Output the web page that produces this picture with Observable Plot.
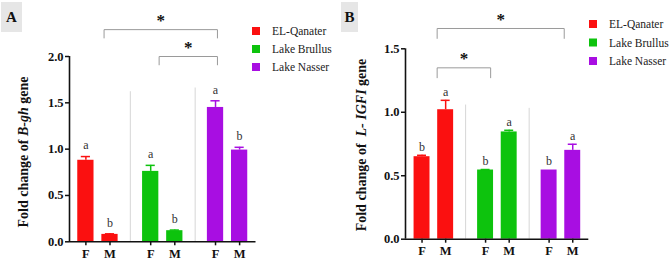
<!DOCTYPE html>
<html>
<head>
<meta charset="utf-8">
<script src="https://cdn.jsdelivr.net/npm/d3@7"></script>
<script src="https://cdn.jsdelivr.net/npm/@observablehq/plot@0.6"></script>
<style>
  html, body { margin: 0; padding: 0; background: #fff; }
  #wrap { position: relative; width: 669px; height: 262px; font-family: "Liberation Serif", "Times New Roman", serif; }
  .panel { position: absolute; top: 0; }
  .tag { position: absolute; top: 2px; height: 30px; background: #e6e6e6; font-weight: bold; font-size: 15px;
         font-family: "Liberation Serif", "Times New Roman", serif;
         display: flex; align-items: center; justify-content: center; color: #111; }
</style>
</head>
<body>
<div id="wrap">
  <div class="tag" style="left:1px;width:21px">A</div>
  <div class="tag" style="left:341px;width:17px">B</div>
  <div class="panel" id="pa" style="left:0"></div>
  <div class="panel" id="pb" style="left:335px"></div>
</div>
<script>
// Sampling sites and sexes
const sites = ["EL-Qanater", "Lake Brullus", "Lake Nasser"];
const sexes = ["F", "M"];
const siteColors = ["#fb1010", "#0dc30d", "#a80ee2"];

// B-gh fold change: mean and SEM, site by site, F then M
const bghMean = [0.88, 0.08, 0.76, 0.12, 1.45, 0.99];
const bghSem = [0.04, 0.006, 0.065, 0.007, 0.072, 0.03];
const bghLetters = ["a", "b", "a", "b", "a", "b"];
const bghBrackets = [["EL-Qanater M", "Lake Nasser F"], ["Lake Brullus F", "Lake Nasser F"]];

// L-IGFI fold change: mean and SEM, site by site, F then M
const igfMean = [0.65, 1.02, 0.545, 0.845, 0.545, 0.70];
const igfSem = [0.011, 0.074, 0.004, 0.013, 0, 0.048];
const igfLetters = ["b", "a", "b", "a", "b", "a"];
const igfBrackets = [["EL-Qanater M", "Lake Nasser M"], ["EL-Qanater M", "Lake Brullus F"]];

const FONT = "'Liberation Serif', 'Times New Roman', serif";
const GROUP_STEP = 2.69;   // distance between the F bars of neighbouring sites
const BAR_HALF = 0.3375;
const CAP_HALF = 0.19;

function buildRows(mean, sem, letters) {
  return mean.map((m, i) => {
    const s = Math.floor(i / 2), k = i % 2;
    return {
      site: sites[s], sex: sexes[k], key: sites[s] + " " + sexes[k],
      pos: s * GROUP_STEP + k, mean: m, sem: sem[i], top: m + sem[i], letter: letters[i]
    };
  });
}

function drawPanel(el, rows, brackets, cfg) {
  const posOf = new Map(rows.map(d => [d.key, d.pos]));
  const labelOf = new Map(rows.map(d => [d.pos, d.sex]));
  const dividers = cfg.dividerTops.map((t, i) => ({x: (i + 1) * GROUP_STEP - (GROUP_STEP - 1) / 2, top: t}));
  const br = brackets.map(([a, b], i) => ({
    id: i,
    x1: posOf.get(a) + cfg.nudge[i][0],
    x2: posOf.get(b) + cfg.nudge[i][1],
    y: cfg.levels[i]
  }));
  const brPts = br.flatMap(d => [
    {id: d.id, x: d.x1, y: d.y - cfg.tip},
    {id: d.id, x: d.x1, y: d.y},
    {id: d.id, x: d.x2, y: d.y},
    {id: d.id, x: d.x2, y: d.y - cfg.tip}
  ]);
  const withErr = rows.filter(d => d.sem > 0);
  const [x0, x1] = cfg.xDomain;

  const svg = Plot.plot({
    width: cfg.width, height: 262,
    marginLeft: cfg.marginLeft, marginRight: cfg.width - cfg.xRight,
    marginTop: cfg.marginTop, marginBottom: cfg.marginBottom,
    style: {fontFamily: FONT, fontSize: "11px", color: "#111", background: "transparent", overflow: "visible"},
    x: {type: "linear", domain: cfg.xDomain},
    y: {domain: [0, cfg.yMax]},
    color: {domain: sites, range: siteColors},
    marks: [
      Plot.ruleX(dividers, {x: "x", y1: 0, y2: "top", stroke: "#d6d6d6", strokeWidth: 1}),
      Plot.rectY(rows, {x1: d => d.pos - BAR_HALF, x2: d => d.pos + BAR_HALF, y1: 0, y2: "mean", fill: "site"}),
      Plot.ruleX(withErr, {x: "pos", y1: "mean", y2: "top", stroke: "site", strokeWidth: 1.5}),
      Plot.ruleY(withErr, {y: "top", x1: d => d.pos - CAP_HALF, x2: d => d.pos + CAP_HALF, stroke: "site", strokeWidth: 1.5}),
      Plot.text(rows, {x: "pos", y: "top", text: "letter", dy: cfg.letterDy, fontSize: 12, fill: "#333", lineAnchor: "middle"}),
      Plot.line(brPts, {x: "x", y: "y", z: "id", stroke: "#9a9a9a", strokeWidth: 1}),
      Plot.text(br, {x: d => (d.x1 + d.x2) / 2, y: "y", text: () => "*", dy: -9, fontSize: 17, fontWeight: "bold", fill: "#111"}),
      Plot.axisY({ticks: cfg.ticks, tickFormat: d3.format(".1f"), tickSize: 4, tickPadding: 2, strokeWidth: 1.5,
                  fontWeight: "bold", fontSize: 12.5, label: null}),
      Plot.axisX({ticks: rows.map(d => d.pos), tickFormat: d => labelOf.get(d), tickSize: 4, tickPadding: 3, strokeWidth: 1.5,
                  fontWeight: "bold", fontSize: 12.5, label: null}),
      Plot.ruleY([0], {x1: x0, x2: x1, stroke: "#111", strokeWidth: 1.6}),
      Plot.ruleX([x0], {y1: 0, y2: cfg.yMax, stroke: "#111", strokeWidth: 1.6})
    ]
  });

  const root = d3.select(svg);

  // y-axis title with the gene name in italics
  const t = root.append("text")
    .attr("transform", `translate(${cfg.titleX},${cfg.titleY}) rotate(-90)`)
    .attr("text-anchor", "middle").attr("dy", "0.35em")
    .style("font-family", FONT).attr("font-weight", "bold").attr("font-size", 14).attr("fill", "#111")
    .style("white-space", "pre");
  t.append("tspan").text(cfg.title[0]);
  t.append("tspan").attr("font-style", "italic").text(cfg.title[1]);
  t.append("tspan").text(cfg.title[2]);

  // site legend
  const lg = root.append("g").attr("transform", `translate(${cfg.legend[0]},${cfg.legend[1]})`);
  const item = lg.selectAll("g").data(sites).join("g")
    .attr("transform", (d, i) => `translate(0,${i * cfg.legend[2]})`);
  item.append("rect").attr("x", 0).attr("y", -4).attr("width", 8).attr("height", 8)
    .attr("fill", (d, i) => siteColors[i]);
  item.append("text").attr("x", 20).attr("dy", "0.35em").attr("text-anchor", "start")
    .style("font-family", FONT).style("font-size", "11.5px").attr("fill", "#222")
    .text(d => d);

  el.appendChild(svg);
}

drawPanel(document.getElementById("pa"), buildRows(bghMean, bghSem, bghLetters), bghBrackets, {
  width: 335, marginLeft: 69, xRight: 255.5, marginTop: 56, marginBottom: 20.7,
  xDomain: [-0.68, 7.06], yMax: 2, ticks: [0, 0.5, 1, 1.5, 2],
  dividerTops: [1.62, 1.66], levels: [2.29, 2.0], tip: 0.09,
  nudge: [[-0.245, 0.08], [0.35, 0.08]], letterDy: -11,
  titleX: 23, titleY: 152, title: ["Fold change of ", "B-gh", " gene"],
  legend: [252, 31, 18]
});

drawPanel(document.getElementById("pb"), buildRows(igfMean, igfSem, igfLetters), igfBrackets, {
  width: 334, marginLeft: 70, xRight: 253.3, marginTop: 48.3, marginBottom: 23.3,
  xDomain: [-0.7, 7.06], yMax: 1.5, ticks: [0, 0.5, 1, 1.5],
  dividerTops: [1.057, 1.031], levels: [1.66, 1.35], tip: 0.078,
  nudge: [[-0.36, -0.36], [-0.36, 0.215]], letterDy: -8.5,
  titleX: 26, titleY: 145, title: ["Fold change of  ", "L- IGFI", " gene"],
  legend: [254, 24, 18.5]
});
</script>
</body>
</html>
